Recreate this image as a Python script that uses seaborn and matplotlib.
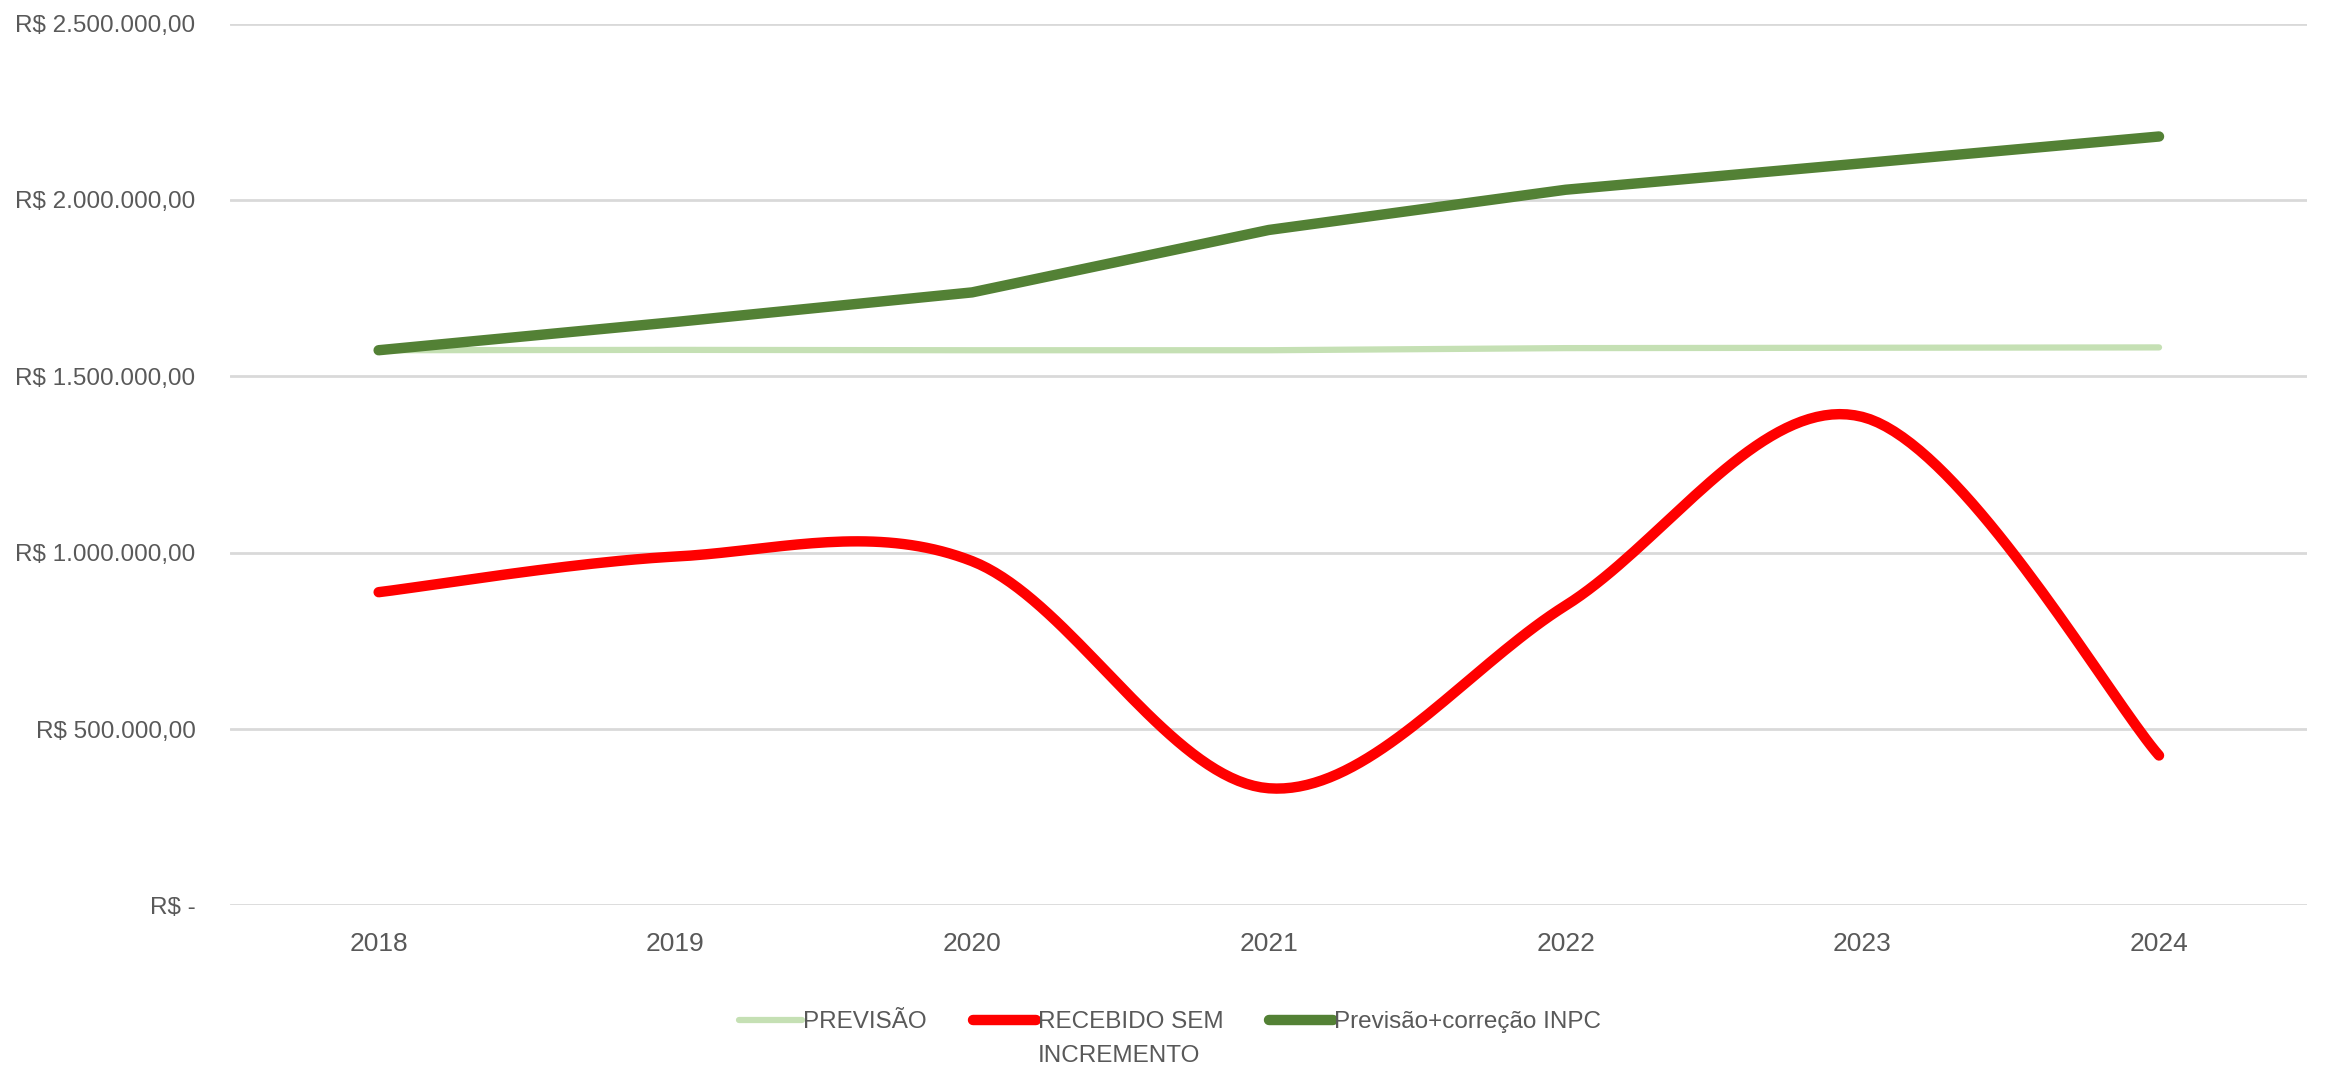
import numpy as np
import pandas as pd
import matplotlib
matplotlib.use("Agg")
import matplotlib.pyplot as plt
import seaborn as sns
from matplotlib.ticker import FuncFormatter
from matplotlib.lines import Line2D

years = ["2018", "2019", "2020", "2021", "2022", "2023", "2024"]
previsao = [1574000, 1575000, 1574000, 1574000, 1580000, 1581000, 1582000]
recebido = [888000, 989000, 976000, 332000, 850000, 1385000, 425000]
previsao_inpc = [1574000, 1654000, 1738000, 1915000, 2029000, 2104000, 2180000]

legend_labels = ["PREVISÃO", "RECEBIDO SEM", "Previsão+correção INPC"]
legend_label_2nd_line = "INCREMENTO"
series_values = [previsao, recebido, previsao_inpc]
colors = ["#C5E0B4", "#FF0000", "#538135"]
widths = [4.5, 7.5, 7.5]
smooth = [False, True, False]

sns.set_theme(style="white")
plt.rcParams['font.family'] = ['Liberation Sans Narrow', 'Liberation Sans', 'DejaVu Sans']

fig = plt.figure(figsize=(23.26, 10.74), dpi=100)
ax = fig.add_axes([0.099, 0.157, 0.893, 0.821])


def catmull(xv, yv, n=40):
    x = np.asarray(xv, float)
    y = np.asarray(yv, float)
    P = np.column_stack([x, y])
    P = np.vstack([P[0], P, P[-1]])
    out = []
    t = np.linspace(0, 1, n)[:, None]
    for i in range(1, len(P) - 2):
        p0, p1, p2, p3 = P[i - 1], P[i], P[i + 1], P[i + 2]
        b1 = p1 + (p2 - p0) / 6
        b2 = p2 - (p3 - p1) / 6
        seg = ((1 - t) ** 3) * p1 + 3 * ((1 - t) ** 2) * t * b1 + 3 * (1 - t) * t ** 2 * b2 + t ** 3 * p2
        out.append(seg if i == 1 else seg[1:])
    out = np.vstack(out)
    return out[:, 0], out[:, 1]


xpos = np.arange(len(years))
for vals, c, w, sm in zip(series_values, colors, widths, smooth):
    if sm:
        xs, ys = catmull(xpos, vals)
    else:
        xs, ys = xpos, np.asarray(vals, float)
    df = pd.DataFrame({"x": xs, "y": ys})
    sns.lineplot(data=df, x="x", y="y", ax=ax, color=c, linewidth=w, sort=False,
                 solid_capstyle="round", solid_joinstyle="round", estimator=None)

ax.set_xlim(-0.5, len(years) - 0.5)
ax.set_ylim(0, 2500000)
ax.set_xticks(xpos)
ax.set_xticklabels(years)
ax.set_yticks(np.arange(0, 2500001, 500000))


def fmt(v, pos):
    if v == 0:
        return "R$ -"
    s = f"{v:,.2f}".replace(",", "X").replace(".", ",").replace("X", ".")
    return "R$ " + s


ax.yaxis.set_major_formatter(FuncFormatter(fmt))
ax.grid(axis="y", color="#D9D9D9", linewidth=2.0)
ax.set_axisbelow(True)
for s in ax.spines.values():
    s.set_visible(False)
ax.tick_params(axis="y", length=0, pad=25, labelsize=17.5, labelcolor="#595959")
ax.tick_params(axis="x", length=0, pad=19, labelsize=19, labelcolor="#595959")
ax.set_xlabel("")
ax.set_ylabel("")

handles = [Line2D([0], [0], color=c, linewidth=w, solid_capstyle="round") for c, w in zip(colors, widths)]
leg = fig.legend(handles, legend_labels, loc="center", bbox_to_anchor=(0.503, 0.048),
                 ncol=3, frameon=False, fontsize=17.5, handlelength=2.6, handletextpad=0.05,
                 columnspacing=1.9)
for t in leg.get_texts():
    t.set_color("#595959")

fig.canvas.draw()
bb = leg.get_texts()[1].get_window_extent()
fig.text(bb.x0 / fig.bbox.width, (bb.y0 - 12) / fig.bbox.height, legend_label_2nd_line,
         ha="left", va="top", fontsize=17.5, color="#595959")

fig.savefig("out.png", dpi=100)
